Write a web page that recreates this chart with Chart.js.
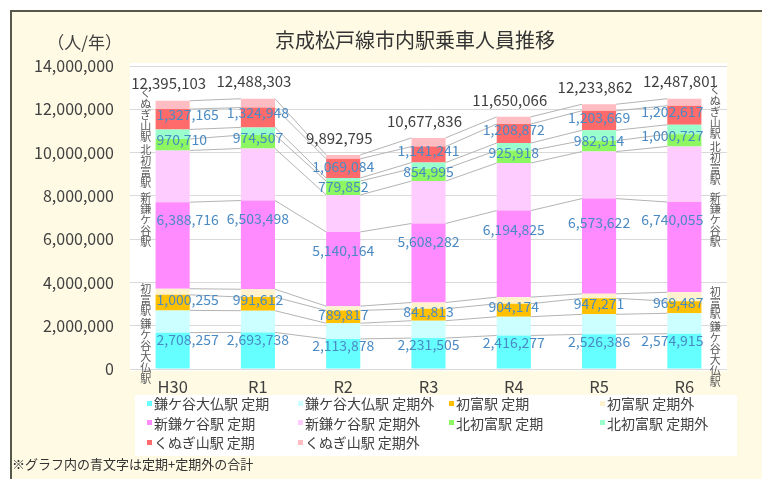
<!DOCTYPE html>
<html>
<head>
<meta charset="utf-8">
<script src="https://cdn.jsdelivr.net/npm/chart.js@4.4.1/dist/chart.umd.min.js"></script>
<style>
html,body{margin:0;padding:0;background:#fff;}
#wrap{position:relative;width:762px;height:479px;overflow:hidden;font-family:"Noto Sans CJK JP","Noto Sans",sans-serif;color:#404040;}
#frame{position:absolute;left:10px;top:10px;width:800px;height:520px;background:#FEFAE4;border:2px solid #57574a;box-sizing:border-box;}
#chart{position:absolute;left:0;top:0;}
#title{position:absolute;left:0;width:830px;top:27px;text-align:center;font-size:20px;line-height:26px;color:#333;}
#unit{position:absolute;left:0;width:122px;top:30px;text-align:right;font-size:17px;line-height:24px;color:#404040;}
#legend{position:absolute;left:135px;top:395px;width:602px;height:61px;background:#fff;}
.li{position:absolute;font-size:14px;line-height:19px;color:#404040;white-space:nowrap;}
.li i{display:inline-block;width:5px;height:5px;margin-right:2px;vertical-align:middle;position:relative;top:-2px;}
#note{position:absolute;left:12px;top:455px;font-size:13px;line-height:18px;color:#333;}
</style>
</head>
<body>
<div id="wrap">
  <div id="frame"></div>
  <canvas id="chart" width="762" height="479"></canvas>
  <div id="title">京成松戸線市内駅乗車人員推移</div>
  <div id="unit">（人/年）</div>
  <div id="legend"></div>
  <div id="note">※グラフ内の青文字は定期+定期外の合計</div>
</div>
<script>
// ---- data (persons per year) ----
const categories = ['H30','R1','R2','R3','R4','R5','R6'];
const yTickValues = [0,2000000,4000000,6000000,8000000,10000000,12000000,14000000];

const daibutsuTeiki    = [1680000,1690000,1390000,1430000,1550000,1600000,1630000];
const daibutsuTeikigai = [1028257,1003738, 723878, 801505, 866277, 926386, 944915];
const daibutsuTotal    = [2708257,2693738,2113878,2231505,2416277,2526386,2574915];

const hatsutomiTeiki    = [720000,630000,590000,550000,600000,740000,560000];
const hatsutomiTeikigai = [280255,361612,199817,291813,304174,207271,409487];
const hatsutomiTotal    = [1000255,991612,789817,841813,904174,947271,969487];

const shinkamaTeiki    = [4000000,4100000,3430000,3650000,4000000,4400000,4170000];
const shinkamaTeikigai = [2388716,2403498,1710164,1958282,2194825,2173622,2570055];
const shinkamaTotal    = [6388716,6503498,5140164,5608282,6194825,6573622,6740055];

const kitahatsuTeiki    = [530000,620000,640000,570000,580000,500000,565000];
const kitahatsuTeikigai = [440710,354507,139852,284995,345918,482914,435727];
const kitahatsuTotal    = [970710,974507,779852,854995,925918,982914,1000727];

const kunugiTeiki    = [940000,915000,890000,740000,880000,900000,880000];
const kunugiTeikigai = [387165,409948,179084,401241,328872,303669,322617];
const kunugiTotal    = [1327165,1324948,1069084,1141241,1208872,1203669,1202617];

const grandTotal = [12395103,12488303,9892795,10677836,11650066,12233862,12487801];

// ---- build ----
const stations = [
  {name:'鎌ケ谷大仏駅', teiki:daibutsuTeiki, gai:daibutsuTeikigai, total:daibutsuTotal, c1:'#66FFFF', c2:'#CCFFFF'},
  {name:'初富駅',       teiki:hatsutomiTeiki, gai:hatsutomiTeikigai, total:hatsutomiTotal, c1:'#FFC000', c2:'#FFF2CC'},
  {name:'新鎌ケ谷駅',   teiki:shinkamaTeiki, gai:shinkamaTeikigai, total:shinkamaTotal, c1:'#FF8BFF', c2:'#FFCCFF'},
  {name:'北初富駅',     teiki:kitahatsuTeiki, gai:kitahatsuTeikigai, total:kitahatsuTotal, c1:'#8CF760', c2:'#99FFCC'},
  {name:'くぬぎ山駅',   teiki:kunugiTeiki, gai:kunugiTeikigai, total:kunugiTotal, c1:'#FF6B6B', c2:'#FFBCC2'}
];
const datasets = [];
stations.forEach(s=>{
  datasets.push({label:s.name+' 定期', data:s.teiki, backgroundColor:s.c1, stack:'a'});
  datasets.push({label:s.name+' 定期外', data:s.gai, backgroundColor:s.c2, stack:'a'});
});

// legend (HTML)
const leg = document.getElementById('legend');
datasets.forEach((d,i)=>{
  const col = i%4, row = Math.floor(i/4);
  const el = document.createElement('div');
  el.className='li';
  el.style.left = (12 + col*151) + 'px';
  el.style.top = (-1 + row*19.5) + 'px';
  el.innerHTML = '<i style="background:'+d.backgroundColor+'"></i>'+d.label;
  leg.appendChild(el);
});

const FONT = '"Noto Sans CJK JP","Noto Sans",sans-serif';
Chart.defaults.font.family = FONT;

const decor = {
  id:'decor',
  beforeDraw(chart){
    const {ctx, chartArea:a} = chart;
    ctx.save();
    ctx.fillStyle='#ffffff';
    ctx.fillRect(a.left, a.top-3, a.right-a.left, a.bottom-a.top+5);
    ctx.restore();
  },
  beforeDatasetsDraw(chart){
    const ctx = chart.ctx;
    ctx.save();
    ctx.strokeStyle='#b4b4b4';
    ctx.lineWidth=1;
    chart.data.datasets.forEach((ds,i)=>{
      const m = chart.getDatasetMeta(i).data;
      for(let j=0;j<m.length-1;j++){
        ctx.beginPath();
        ctx.moveTo(m[j].x + m[j].width/2, m[j].y);
        ctx.lineTo(m[j+1].x - m[j+1].width/2, m[j+1].y);
        ctx.stroke();
      }
    });
    ctx.restore();
  },
  afterDatasetsDraw(chart){
    const ctx = chart.ctx, a = chart.chartArea;
    const n = categories.length;
    ctx.save();
    // blue station totals
    ctx.font = '14px '+FONT;
    ctx.fillStyle = '#4a8ac4';
    ctx.textBaseline = 'middle';
    stations.forEach((s,si)=>{
      const lo = chart.getDatasetMeta(si*2).data, hi = chart.getDatasetMeta(si*2+1).data;
      for(let j=0;j<n;j++){
        const y = (lo[j].base + hi[j].y)/2;
        let x = lo[j].x;
        if(j===0){ctx.textAlign='left'; x = lo[j].x - lo[j].width/2 + 1;}
        else if(j===n-1){ctx.textAlign='right'; x = lo[j].x + lo[j].width/2 + 2;}
        else ctx.textAlign='center';
        ctx.fillText(s.total[j].toLocaleString('en-US'), x, y);
      }
    });
    // grand totals
    ctx.font = '15px '+FONT;
    ctx.fillStyle = '#404040';
    ctx.textAlign = 'center';
    const top = chart.getDatasetMeta(datasets.length-1).data;
    for(let j=0;j<n;j++){
      ctx.fillText(grandTotal[j].toLocaleString('en-US'), top[j].x - 4, top[j].y - 17);
    }
    // vertical station names beside first and last bars
    ctx.font = '11px '+FONT;
    ctx.fillStyle = '#595959';
    const step = 11;
    [0, n-1].forEach(j=>{
      const b = chart.getDatasetMeta(0).data[j];
      const cx = j===0 ? (a.left + b.x - b.width/2)/2 + 3 : (b.x + b.width/2 + a.right)/2 + 1;
      let prevEnd = -1e9;
      for(let si=stations.length-1; si>=0; si--){
        const lo = chart.getDatasetMeta(si*2).data[j], hi = chart.getDatasetMeta(si*2+1).data[j];
        const chars = [...stations[si].name];
        const h = chars.length*step;
        let start = (lo.base + hi.y)/2 - h/2;
        if(start < prevEnd + 2) start = prevEnd + 2;
        chars.forEach((ch,k)=>ctx.fillText(ch, cx, start + step*k + step/2));
        prevEnd = start + h;
      }
    });
    ctx.restore();
  }
};

new Chart(document.getElementById('chart'), {
  type:'bar',
  data:{labels:categories, datasets},
  options:{
    responsive:false,
    animation:false,
    layout:{padding:{left:10, top:66, right:35, bottom:80}},
    datasets:{bar:{barPercentage:0.8, categoryPercentage:0.5}},
    plugins:{legend:{display:false}, tooltip:{enabled:false}},
    scales:{
      x:{
        stacked:true,
        grid:{display:false},
        border:{display:false},
        ticks:{font:{size:16.5}, color:'#404040', padding:0},
        afterFit(s){ s.height = 30; }
      },
      y:{
        stacked:true,
        min:0, max:14000000,
        afterBuildTicks(s){ s.ticks = yTickValues.map(v=>({value:v})); },
        grid:{color:'#d9d9d9', drawTicks:false},
        border:{display:false},
        ticks:{font:{size:16}, color:'#404040', padding:16, callback:v=>v.toLocaleString('en-US')},
        afterFit(s){ s.width = 120; }
      }
    }
  },
  plugins:[decor]
});
</script>
</body>
</html>
